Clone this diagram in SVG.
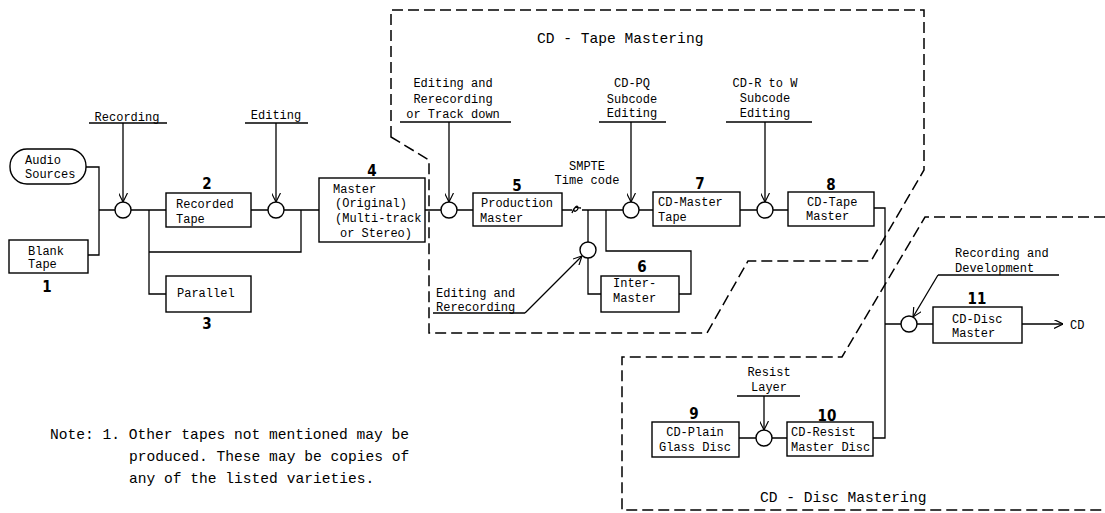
<svg xmlns="http://www.w3.org/2000/svg" width="1105" height="513" viewBox="0 0 1105 513">
<defs>
<marker id="v" viewBox="0 0 10 10" refX="10" refY="5" markerWidth="9" markerHeight="9" markerUnits="userSpaceOnUse" orient="auto">
<path d="M0,0 L10,5 L0,10" fill="none" stroke="#000" stroke-width="1.3"/>
</marker>
<style>
.b{fill:#fff;stroke:#000;stroke-width:1.4}
.c{fill:#fff;stroke:#000;stroke-width:1.4}
.l{fill:none;stroke:#000;stroke-width:1.3}
.d{fill:none;stroke:#000;stroke-width:1.5;stroke-dasharray:11 5}
.t{font-family:'Liberation Mono',monospace;font-size:12px;fill:#000}
.m{text-anchor:middle}
.h{font-family:'Liberation Mono',monospace;font-size:14.6px;fill:#000}
.n{font-family:'Liberation Sans Narrow','DejaVu Sans Condensed','Liberation Sans',sans-serif;font-weight:bold;font-size:15px;fill:#000;text-anchor:middle}
</style>
</defs>
<rect width="1105" height="513" fill="#fff"/>

<g id="regions">
<path class="d" d="M391,137 L391,10 L924,10 L924,170 L871,261 L748,261 L707,333 L429,333 L429,160 Z"/>
<path class="d" d="M1105,217 L925,217 L842,357 L622,357 L622,510 L1105,510"/>
<text class="h" x="537" y="43">CD - Tape Mastering</text>
<text class="h" x="760" y="502">CD - Disc Mastering</text>
</g>

<g id="connectors">
<path class="l" d="M86,167 H99 V255 H88"/>
<path class="l" d="M99,210 H115 M131,210 H166 M251,210 H268 M284,210 H319 M425,210 H441 M457,210 H473"/>
<path class="l" d="M562,210 H572 M582,210 H623 M639,210 H653 M740,210 H757 M773,210 H788"/>
<path class="l" d="M572,213 c2,-6 6,-9 6,-5 c0,3 -5,5 -4,1 c1,-3 4,-1 7,-1"/>
<path class="l" d="M149,210 V294 H166 M149,252 H301 V210"/>
<path class="l" d="M588,210 V242 M588,258 V294 H601 M606,210 V251 H691 V294 H679"/>
<path class="l" d="M874,208 H885 V438 H873 M885,324 H901 M917,324 H933"/>
<path class="l" d="M739,438 H756 M772,438 H787"/>
<path class="l" d="M1022,324 H1063" marker-end="url(#v)"/>
<path class="l" d="M89,123 H167"/>
<path class="l" d="M123,123 V202" marker-end="url(#v)"/>
<path class="l" d="M245,123 H308"/>
<path class="l" d="M276,123 V202" marker-end="url(#v)"/>
<path class="l" d="M400,122 H511"/>
<path class="l" d="M449,122 V202" marker-end="url(#v)"/>
<path class="l" d="M599,122 H666"/>
<path class="l" d="M631,122 V202" marker-end="url(#v)"/>
<path class="l" d="M726,122 H812"/>
<path class="l" d="M765,122 V202" marker-end="url(#v)"/>
<path class="l" d="M433,313 H525"/>
<path class="l" d="M525,313 L582,256" marker-end="url(#v)"/>
<path class="l" d="M938,275 H1059"/>
<path class="l" d="M938,275 L913,317" marker-end="url(#v)"/>
<path class="l" d="M737,396 H800"/>
<path class="l" d="M764,396 V430" marker-end="url(#v)"/>
</g>

<g id="junctions">
<circle class="c" cx="123" cy="210" r="8"/>
<circle class="c" cx="276" cy="210" r="8"/>
<circle class="c" cx="449" cy="210" r="8"/>
<circle class="c" cx="588" cy="250" r="8"/>
<circle class="c" cx="631" cy="210" r="8"/>
<circle class="c" cx="765" cy="210" r="8"/>
<circle class="c" cx="909" cy="324" r="8"/>
<circle class="c" cx="764" cy="438" r="8"/>
</g>

<g id="audio-sources">
<rect class="b" x="10" y="149" width="76" height="35" rx="17"/>
<text class="t" x="25" y="164">Audio</text>
<text class="t" x="25" y="178">Sources</text>
</g>
<g id="n1-blank-tape">
<rect class="b" x="9" y="240" width="79" height="33"/>
<text class="t" x="28" y="255">Blank</text>
<text class="t" x="28" y="268">Tape</text>
<text class="n" x="47" y="292">1</text>
</g>
<g id="n2-recorded-tape">
<rect class="b" x="166" y="193" width="85" height="34"/>
<text class="t" x="176" y="208">Recorded</text>
<text class="t" x="176" y="223">Tape</text>
<text class="n" x="207" y="189">2</text>
</g>
<g id="n3-parallel">
<rect class="b" x="166" y="276" width="85" height="36"/>
<text class="t" x="177" y="297">Parallel</text>
<text class="n" x="207" y="329">3</text>
</g>
<g id="n4-master">
<rect class="b" x="319" y="178" width="106" height="64"/>
<text class="t" x="333" y="193">Master</text>
<text class="t" x="335" y="207">(Original)</text>
<text class="t" x="335" y="222">(Multi-track</text>
<text class="t" x="340" y="237">or Stereo)</text>
<text class="n" x="372" y="176">4</text>
</g>
<g id="n5-production-master">
<rect class="b" x="473" y="193" width="89" height="33"/>
<text class="t" x="481" y="207">Production</text>
<text class="t" x="480" y="222">Master</text>
<text class="n" x="517" y="191">5</text>
</g>
<g id="n6-inter-master">
<rect class="b" x="601" y="276" width="78" height="36"/>
<text class="t" x="613" y="287">Inter-</text>
<text class="t" x="613" y="302">Master</text>
<text class="n" x="642" y="272">6</text>
</g>
<g id="n7-cd-master-tape">
<rect class="b" x="653" y="192" width="87" height="34"/>
<text class="t" x="658" y="206">CD-Master</text>
<text class="t" x="658" y="221">Tape</text>
<text class="n" x="700" y="189">7</text>
</g>
<g id="n8-cd-tape-master">
<rect class="b" x="788" y="192" width="86" height="34"/>
<text class="t" x="807" y="206">CD-Tape</text>
<text class="t" x="806" y="220">Master</text>
<text class="n" x="831" y="190">8</text>
</g>
<g id="n9-cd-plain-glass-disc">
<rect class="b" x="652" y="422" width="87" height="35"/>
<text class="t m" x="695" y="436">CD-Plain</text>
<text class="t m" x="695" y="451">Glass Disc</text>
<text class="n" x="694" y="419">9</text>
</g>
<g id="n10-cd-resist-master-disc">
<rect class="b" x="787" y="422" width="86" height="34"/>
<text class="t" x="791" y="436">CD-Resist</text>
<text class="t" x="791" y="451">Master Disc</text>
<text class="n" x="827" y="421">10</text>
</g>
<g id="n11-cd-disc-master">
<rect class="b" x="933" y="307" width="89" height="36"/>
<text class="t" x="952" y="323">CD-Disc</text>
<text class="t" x="952" y="337">Master</text>
<text class="n" x="977" y="304">11</text>
</g>
<g id="cd-output">
<text class="t" x="1070" y="329">CD</text>
</g>

<g id="labels">
<text class="t m" x="127" y="121">Recording</text>
<text class="t m" x="276" y="119">Editing</text>
<text class="t m" x="453" y="87">Editing and</text>
<text class="t m" x="453" y="103">Rerecording</text>
<text class="t m" x="453" y="118">or Track down</text>
<text class="t m" x="632" y="87">CD-PQ</text>
<text class="t m" x="632" y="103">Subcode</text>
<text class="t m" x="632" y="117">Editing</text>
<text class="t m" x="765" y="87">CD-R to W</text>
<text class="t m" x="765" y="102">Subcode</text>
<text class="t m" x="765" y="117">Editing</text>
<text class="t m" x="587" y="170">SMPTE</text>
<text class="t m" x="587" y="184">Time code</text>
<text class="t" x="436" y="297">Editing and</text>
<text class="t" x="436" y="311">Rerecording</text>
<text class="t" x="955" y="257">Recording and</text>
<text class="t" x="955" y="272">Development</text>
<text class="t m" x="769" y="376">Resist</text>
<text class="t m" x="769" y="391">Layer</text>
</g>

<g id="note">
<text class="h" x="50" y="439">Note: 1. Other tapes not mentioned may be</text>
<text class="h" x="129" y="461">produced.  These may be copies of</text>
<text class="h" x="129" y="483">any of the listed varieties.</text>
</g>
</svg>
